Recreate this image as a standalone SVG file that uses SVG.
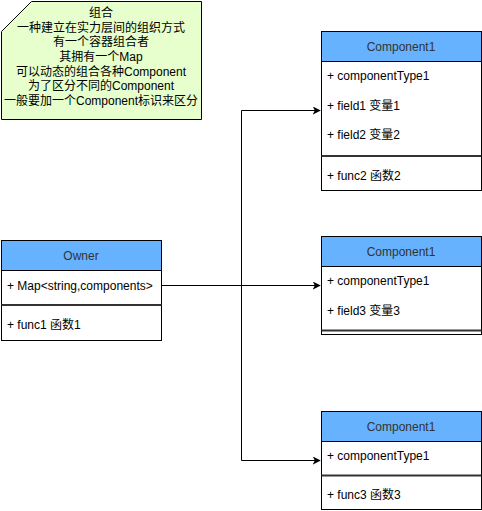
<svg xmlns="http://www.w3.org/2000/svg" width="482" height="511" viewBox="0 0 482 511">
<style>
text{font-family:"Liberation Sans","Noto Sans CJK SC",sans-serif;font-size:12px;fill:#000}
.hdr{fill:#66B2FF;stroke:#000;stroke-width:1}
.box{fill:#fff;stroke:#000;stroke-width:1}
.sep{stroke:#333;stroke-width:2}
.edge{fill:none;stroke:#000;stroke-width:1}
.c{text-anchor:middle}
.h{fill:#333}
</style>
<defs>
<marker id="arr" viewBox="0 0 10 10" refX="9" refY="5" markerWidth="8" markerHeight="8" markerUnits="userSpaceOnUse" orient="auto">
<path d="M0,0 L10,5 L0,10 L2.5,5 Z" fill="#000"/>
</marker>
</defs>
<g id="note">
<polygon points="1.5,31.5 31.5,1.5 201.5,1.5 201.5,119.5 1.5,119.5" fill="#E6FFCC" stroke="#000"/>
<text class="c" x="101" y="17">组合</text>
<text class="c" x="101" y="32">一种建立在实力层间的组织方式</text>
<text class="c" x="101" y="46">有一个容器组合者</text>
<text class="c" x="101" y="61">其拥有一个Map</text>
<text class="c" x="101" y="76">可以动态的组合各种Component</text>
<text class="c" x="101" y="90">为了区分不同的Component</text>
<text class="c" x="101" y="105">一般要加一个Component标识来区分</text>
</g>
<g id="connectors">
<path class="edge" d="M161.5,285.5 H241.5 V110.5 H320" marker-end="url(#arr)"/>
<path class="edge" d="M241.5,285.5 H320" marker-end="url(#arr)"/>
<path class="edge" d="M241.5,285.5 V460.5 H320" marker-end="url(#arr)"/>
</g>
<g id="owner">
<rect class="box" x="1.5" y="240.5" width="160" height="100"/>
<rect class="hdr" x="1.5" y="240.5" width="160" height="30"/>
<text class="c h" x="81" y="260">Owner</text>
<text x="7" y="290">+ Map&lt;string,components&gt;</text>
<line class="sep" x1="1.5" y1="305" x2="161.5" y2="305"/>
<text x="7" y="329">+ func1 函数1</text>
</g>
<g id="component1a">
<rect class="box" x="321.5" y="31.5" width="160" height="159"/>
<rect class="hdr" x="321.5" y="31.5" width="160" height="30"/>
<text class="c h" x="401" y="51">Component1</text>
<text x="327" y="80">+ componentType1</text>
<text x="327" y="110">+ field1 变量1</text>
<text x="327" y="139">+ field2 变量2</text>
<line class="sep" x1="321.5" y1="156" x2="481.5" y2="156"/>
<text x="327" y="180">+ func2 函数2</text>
</g>
<g id="component1b">
<rect class="box" x="321.5" y="236.5" width="160" height="98"/>
<rect class="hdr" x="321.5" y="236.5" width="160" height="30"/>
<text class="c h" x="401" y="256">Component1</text>
<text x="327" y="285">+ componentType1</text>
<text x="327" y="315">+ field3 变量3</text>
<line class="sep" x1="321.5" y1="330.5" x2="481.5" y2="330.5"/>
</g>
<g id="component1c">
<rect class="box" x="321.5" y="411.5" width="160" height="98"/>
<rect class="hdr" x="321.5" y="411.5" width="160" height="30"/>
<text class="c h" x="401" y="431">Component1</text>
<text x="327" y="460">+ componentType1</text>
<line class="sep" x1="321.5" y1="475.5" x2="481.5" y2="475.5"/>
<text x="327" y="499">+ func3 函数3</text>
</g>
</svg>
